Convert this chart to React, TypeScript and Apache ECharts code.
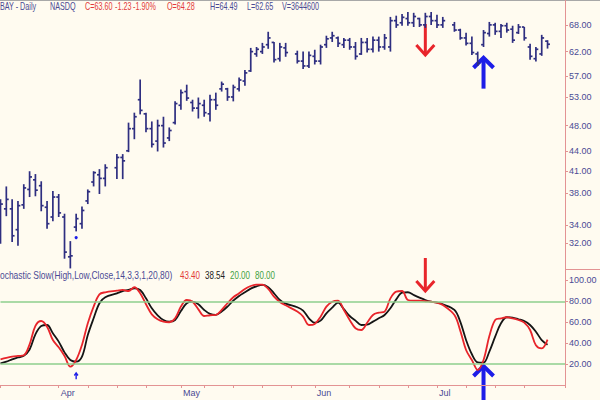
import React, { useEffect, useRef } from "react";
import * as echarts from "echarts";

// ---------- data ----------
const START_DATE = "2001-03-19"; // first weekday slot shown
const SLOT_COUNT = 98; // weekday slots on the axis (incl. holidays + blank tail)
const MONTHS = ["Jan", "Feb", "Mar", "Apr", "May", "Jun", "Jul", "Aug", "Sep", "Oct", "Nov", "Dec"];

// Daily OHLC, one entry per weekday slot (null = market holiday)
const OPEN: (number | null)[] = [
  32.5, 36.0, 36.0, 33.5, 36.5, 38.5, 39.8, 39.0, 36.2, 35.0,
  37.5, 35.0, 30.5, 33.8, 34.2, 37.0, 39.5, 40.5, 40.0, null,
  41.5, 43.0, 44.0, 47.5, 52.5, 50.0, 47.5, 45.5, 48.0, 46.0,
  48.5, 51.5, 54.0, 52.0, 51.0, 51.5, 50.0, 52.5, 54.5, 54.5,
  53.0, 54.5, 56.0, 58.0, 61.5, 62.0, 63.5, 64.0, 60.5, 62.8,
  null, 61.5, 60.0, 59.0, 61.0, 60.0, 63.5, 65.0, 65.0, 63.5,
  64.5, 63.0, 61.5, 64.0, 62.5, 64.5, 63.0, 63.0, 69.0, 68.5,
  69.5, 68.5, 69.5, 68.0, 70.0, 69.0, 68.0, null, 68.0, 66.8,
  65.0, 63.8, 61.5, 63.5, 66.0, 68.0, 66.5, 67.8, 67.0, 66.2,
  67.5, 63.0, 60.5, 61.5, 64.28,
];
const HIGH: (number | null)[] = [
  37.2, 38.9, 37.2, 37.0, 39.2, 41.0, 40.6, 39.6, 37.0, 38.3,
  37.9, 35.4, 32.2, 35.4, 36.3, 38.5, 41.0, 41.3, 42.0, null,
  43.5, 43.5, 48.5, 50.2, 56.3, 50.2, 48.7, 49.0, 49.5, 47.7,
  52.2, 54.4, 55.3, 52.5, 52.9, 52.5, 53.4, 53.8, 55.9, 54.7,
  55.3, 56.7, 58.2, 62.8, 63.0, 63.9, 66.4, 64.1, 63.9, 63.9,
  null, 62.2, 62.0, 62.0, 62.4, 63.5, 65.5, 66.4, 65.3, 65.0,
  65.0, 64.1, 65.0, 65.0, 65.3, 65.3, 65.9, 69.9, 70.2, 70.6,
  71.1, 70.9, 69.7, 70.9, 71.1, 70.4, 69.9, null, 68.7, 67.1,
  66.2, 65.3, 62.0, 66.8, 68.7, 68.5, 68.2, 68.5, 67.8, 68.2,
  67.5, 63.7, 63.0, 65.7, 64.49,
];
const LOW: (number | null)[] = [
  31.9, 35.1, 32.1, 31.7, 36.0, 37.5, 37.6, 35.7, 33.6, 34.5,
  35.0, 30.3, 29.3, 33.3, 33.6, 36.6, 38.9, 37.9, 38.9, null,
  39.9, 39.9, 43.8, 45.8, 49.9, 46.9, 44.5, 43.9, 44.5, 45.5,
  48.2, 50.7, 52.3, 50.4, 49.2, 49.5, 48.7, 50.7, 54.0, 52.3,
  52.2, 54.0, 55.1, 57.8, 60.9, 61.5, 62.6, 59.7, 59.9, 60.9,
  null, 59.5, 58.4, 58.6, 59.3, 59.3, 62.8, 64.1, 63.0, 62.8,
  62.4, 60.3, 61.3, 61.8, 61.8, 62.0, 62.4, 62.0, 67.3, 67.8,
  67.8, 67.5, 67.5, 67.3, 68.0, 67.3, 67.3, null, 66.4, 64.6,
  63.3, 61.3, 59.0, 63.0, 65.3, 65.7, 65.0, 66.2, 63.9, 65.9,
  64.4, 60.3, 59.9, 61.1, 62.65,
];
const CLOSE: (number | null)[] = [
  36.6, 37.2, 32.8, 36.4, 38.7, 40.2, 38.4, 36.4, 34.2, 37.5,
  35.5, 31.0, 30.6, 34.8, 35.8, 38.2, 40.8, 40.0, 41.5, null,
  43.0, 42.5, 47.5, 49.5, 50.6, 47.5, 45.0, 48.0, 45.2, 47.2,
  51.8, 53.8, 52.8, 51.0, 51.8, 50.2, 52.5, 51.5, 55.4, 53.0,
  54.8, 56.2, 57.6, 62.0, 62.5, 63.0, 65.0, 60.3, 63.0, 61.8,
  null, 60.0, 59.0, 61.2, 60.0, 63.0, 64.8, 65.5, 63.8, 64.5,
  63.0, 61.0, 64.0, 62.5, 64.5, 63.0, 65.0, 69.0, 68.0, 69.8,
  68.5, 70.0, 68.0, 70.0, 69.0, 68.0, 69.0, null, 66.8, 65.0,
  63.8, 61.8, 59.6, 66.2, 68.0, 66.5, 67.8, 66.8, 64.5, 67.5,
  65.0, 61.0, 62.5, 65.0, 63.60,
];

// Stochastic Slow(14,3,3): %K (red) and %D (black)
const STOCH_K: (number | null)[] = [
  24.6, 26.0, 27.1, 27.8, 28.4, 38.9, 56.5, 61.2, 55.8, 43.0,
  36.1, 27.8, 17.5, 23.9, 38.3, 59.0, 75.0, 86.7, 88.7, null,
  90.2, 90.9, 89.9, 93.5, 87.7, 77.2, 67.6, 62.9, 60.6, 60.0,
  63.8, 75.0, 81.3, 79.7, 72.4, 66.0, 66.7, 67.0, 71.8, 78.2,
  83.9, 87.7, 91.9, 94.7, 96.0, 96.0, 91.9, 84.5, 79.4, 76.2,
  null, 70.2, 65.4, 57.4, 58.4, 65.4, 75.0, 79.7, 80.7, 71.8,
  62.2, 54.3, 52.6, 59.6, 67.0, 69.2, 70.2, 82.9, 89.3, 89.9,
  81.3, 80.7, 80.7, 80.1, 79.7, 78.8, 76.6, null, 67.0, 52.0,
  33.5, 23.9, 14.4, 23.9, 46.8, 62.2, 63.8, 64.8, 63.8, 62.2,
  59.6, 52.6, 38.0, 35.0, 43.40,
];
const STOCH_D: (number | null)[] = [
  20.7, 22.3, 24.6, 26.3, 28.0, 34.0, 48.5, 56.5, 57.4, 49.5,
  41.5, 31.2, 23.9, 22.3, 27.1, 47.8, 63.8, 78.2, 83.9, null,
  87.7, 89.9, 90.9, 92.5, 90.9, 82.9, 73.4, 66.7, 62.2, 60.6,
  62.2, 70.8, 78.2, 79.7, 77.2, 71.8, 68.0, 67.0, 70.2, 75.0,
  80.7, 85.2, 88.7, 92.2, 94.4, 95.7, 93.5, 87.7, 81.3, 77.9,
  null, 74.4, 71.2, 63.8, 59.6, 61.6, 68.6, 74.0, 78.8, 72.5,
  66.0, 61.6, 57.4, 57.7, 60.6, 63.8, 67.0, 73.4, 81.9, 88.3,
  88.7, 86.1, 83.6, 81.3, 79.7, 78.8, 77.2, null, 71.8, 60.6,
  43.1, 29.4, 21.6, 21.3, 32.0, 46.2, 59.0, 64.8, 64.5, 62.9,
  61.2, 57.4, 51.0, 43.0, 38.54,
];

const PRICE_TICKS = [32, 34, 38, 41, 44, 48, 53, 57, 62, 68];
const PRICE_AXIS_MIN = 29.14;
const PRICE_AXIS_MAX = 74.11;
const STOCH_TICKS = [20, 40, 60, 80, 100];
const STOCH_LEVELS = [20, 80];

const HEADER = [
  { text: "BAY - Daily", x: 0, kind: "navy" },
  { text: "NASDQ", x: 50, kind: "navy" },
  { text: "C=63.60", x: 85, kind: "red" },
  { text: "-1.23", x: 115, kind: "red" },
  { text: "-1.90%", x: 133, kind: "red" },
  { text: "O=64.28", x: 167, kind: "red" },
  { text: "H=64.49", x: 210, kind: "navy" },
  { text: "L=62.65", x: 247, kind: "navy" },
  { text: "V=3644600", x: 282, kind: "navy" },
];
const STOCH_LABEL = [
  { text: "ochastic Slow(High,Low,Close,14,3,3,1,20,80)", x: 0, kind: "navy", sx: 0.845 },
  { text: "43.40", x: 180, kind: "red", sx: 0.8 },
  { text: "38.54", x: 205, kind: "black", sx: 0.8 },
  { text: "20.00", x: 230, kind: "green", sx: 0.8 },
  { text: "80.00", x: 255, kind: "green", sx: 0.8 },
];

// annotation arrows: panel 0 = price, panel 1 = stochastic; arrow tip at "to"
const ARROWS = [
  { panel: 0, slot: 73, from: 68.2, to: 61.3, kind: "red" },
  { panel: 0, slot: 83, from: 54.55, to: 60.7, kind: "blue" },
  { panel: 1, slot: 73, from: 121.5, to: 90, kind: "red" },
  { panel: 1, slot: 83, from: -14.5, to: 18.2, kind: "blue" },
];

// ---------- styles ----------
const BG = "#fffbf0";
const PINK = "#e39393";
const NAVY = "#4a4a94";
const BAR = "#2e2e80";
const RED = "#e8252b";
const BLUE = "#1d1de8";
const GREEN = "#8ecf8e";
const FONT = "Arial, 'Liberation Sans', sans-serif";
const COLORS: Record<string, string> = { navy: NAVY, red: "#e23a3a", black: "#222222", green: "#3f9f3f", blue: BLUE };

function buildSlots(): string[] {
  const out: string[] = [];
  const d = new Date(START_DATE + "T00:00:00Z");
  while (out.length < SLOT_COUNT) {
    const wd = d.getUTCDay();
    if (wd !== 0 && wd !== 6) out.push(d.toISOString().slice(0, 10));
    d.setUTCDate(d.getUTCDate() + 1);
  }
  return out;
}

export default function App() {
  const ref = useRef<HTMLDivElement>(null);

  useEffect(() => {
    if (!ref.current) return;
    const chart = echarts.init(ref.current, undefined, { renderer: "svg" });
    const slots = buildSlots();
    const dataLen = CLOSE.length;

    const monthStarts = new Set<number>();
    slots.forEach((s, i) => {
      if (i > 0 && s.slice(5, 7) !== slots[i - 1].slice(5, 7)) monthStarts.add(i);
    });
    const tickSet = new Set<number>(monthStarts);
    slots.forEach((s, i) => {
      const wd = new Date(s + "T00:00:00Z").getUTCDay();
      if (wd !== 1) return;
      let near = false;
      monthStarts.forEach((m) => { if (Math.abs(m - i) <= 3 && m !== i) near = true; });
      if (!near) tickSet.add(i);
    });

    const ohlc: number[][] = [];
    for (let i = 0; i < dataLen; i++) {
      const o = OPEN[i], h = HIGH[i], l = LOW[i], c = CLOSE[i];
      if (o == null || h == null || l == null || c == null) continue;
      ohlc.push([i, Math.log(o), Math.log(h), Math.log(l), Math.log(c)]);
    }

    const textEl = (t: { text: string; x: number; kind: string; sx?: number }, y: number, sx: number) => ({
      type: "text",
      x: t.x,
      y,
      scaleX: t.sx ?? sx,
      silent: true,
      style: {
        text: t.text,
        fill: COLORS[t.kind],
        fontSize: 10,
        fontFamily: FONT,
        verticalAlign: "middle",
        textVerticalAlign: "middle",
      },
    });

    const option: any = {
      animation: false,
      backgroundColor: BG,
      textStyle: { fontFamily: FONT },
      grid: [
        { left: 0.5, width: 564.5, top: 0, height: 270, outerBoundsMode: "none" },
        { left: 0.5, width: 564.5, top: 270, height: 115, outerBoundsMode: "none" },
      ],
      xAxis: [
        { type: "category", gridIndex: 0, data: slots, boundaryGap: false, show: false },
        {
          type: "category",
          gridIndex: 1,
          data: slots,
          boundaryGap: false,
          axisLine: { show: true, lineStyle: { color: PINK, width: 1 } },
          axisTick: { show: true, length: 3, interval: (i: number) => tickSet.has(i), lineStyle: { color: PINK } },
          axisLabel: {
            show: true,
            interval: (i: number) => monthStarts.has(i) && i < dataLen,
            formatter: (v: string) => MONTHS[parseInt(v.slice(5, 7), 10) - 1],
            align: "left",
            margin: 3,
            padding: [0, 0, 0, 2],
            color: NAVY,
            fontSize: 9,
            fontFamily: FONT,
          },
          splitLine: { show: false },
        },
      ],
      yAxis: [
        {
          type: "value",
          gridIndex: 0,
          position: "right",
          min: Math.log(PRICE_AXIS_MIN),
          max: Math.log(PRICE_AXIS_MAX),
          axisLine: { show: true, lineStyle: { color: PINK, width: 1 } },
          axisTick: { show: true, length: 3, customValues: PRICE_TICKS.map((p) => Math.log(p)), lineStyle: { color: PINK } },
          axisLabel: {
            show: true,
            customValues: PRICE_TICKS.map((p) => Math.log(p)),
            formatter: (v: number) => Math.exp(v).toFixed(2),
            margin: 4,
            color: NAVY,
            fontSize: 9,
            fontFamily: FONT,
          },
          splitLine: { show: false },
        },
        {
          type: "value",
          gridIndex: 1,
          position: "right",
          min: 0,
          max: 110,
          axisLine: { show: true, lineStyle: { color: PINK, width: 1 } },
          axisTick: { show: true, length: 3, customValues: STOCH_TICKS, lineStyle: { color: PINK } },
          axisLabel: {
            show: true,
            customValues: STOCH_TICKS,
            formatter: (v: number) => v.toFixed(2),
            margin: 4,
            color: NAVY,
            fontSize: 9,
            fontFamily: FONT,
          },
          splitLine: { show: false },
        },
      ],
      series: [
        {
          type: "custom",
          name: "BAY",
          xAxisIndex: 0,
          yAxisIndex: 0,
          data: ohlc,
          encode: { x: 0, y: [1, 2, 3, 4] },
          renderItem: (_p: any, api: any) => {
            const i = api.value(0);
            const o = api.coord([i, api.value(1)]);
            const h = api.coord([i, api.value(2)]);
            const l = api.coord([i, api.value(3)]);
            const c = api.coord([i, api.value(4)]);
            const style = { stroke: BAR, lineWidth: 1.7 };
            return {
              type: "group",
              children: [
                { type: "line", shape: { x1: h[0], y1: h[1], x2: l[0], y2: l[1] }, style },
                { type: "line", shape: { x1: o[0] - 2.4, y1: o[1], x2: o[0], y2: o[1] }, style },
                { type: "line", shape: { x1: c[0], y1: c[1], x2: c[0] + 2.4, y2: c[1] }, style },
              ],
            };
          },
        },
        {
          type: "line",
          name: "%D",
          xAxisIndex: 1,
          yAxisIndex: 1,
          data: STOCH_D,
          connectNulls: true,
          showSymbol: false,
          smooth: 0.35,
          lineStyle: { color: "#151515", width: 1.8 },
          markLine: {
            silent: true,
            symbol: "none",
            label: { show: false },
            lineStyle: { color: GREEN, width: 1.6, type: "solid" },
            data: STOCH_LEVELS.map((v) => ({ yAxis: v })),
          },
          z: 2,
        },
        {
          type: "line",
          name: "%K",
          xAxisIndex: 1,
          yAxisIndex: 1,
          data: STOCH_K,
          connectNulls: true,
          showSymbol: false,
          smooth: 0.35,
          lineStyle: { color: RED, width: 1.8 },
          z: 3,
        },
      ],
    };
    chart.setOption(option);

    // annotation graphics positioned through the chart's own scales
    const toPx = (panel: number, slot: number, v: number) =>
      chart.convertToPixel({ xAxisIndex: panel, yAxisIndex: panel } as any, [slot, panel === 0 ? Math.log(v) : v]) as number[];

    const graphics: any[] = [
      { type: "rect", shape: { x: 0, y: 0, width: 600, height: 1 }, style: { fill: "#a8a8a8" }, silent: true },
      { type: "line", shape: { x1: 565, y1: 269.5, x2: 600, y2: 269.5 }, style: { stroke: PINK, lineWidth: 1 }, silent: true },
      ...HEADER.map((t) => textEl(t, 7, 0.72)),
      ...STOCH_LABEL.map((t) => textEl(t, 275.5, 0.82)),
    ];

    ARROWS.forEach((a) => {
      const p0 = toPx(a.panel, a.slot, a.from);
      const p1 = toPx(a.panel, a.slot, a.to);
      const dir = Math.sign(p1[1] - p0[1]);
      const color = a.kind === "red" ? RED : BLUE;
      const w = a.kind === "red" ? 3 : 4;
      const hw = a.kind === "red" ? 9 : 10;
      graphics.push({
        type: "line",
        silent: true,
        shape: { x1: p0[0], y1: p0[1], x2: p1[0], y2: p1[1] - dir * 1.5 },
        style: { stroke: color, lineWidth: w },
      });
      graphics.push({
        type: "polyline",
        silent: true,
        shape: { points: [[p1[0] - hw, p1[1] - dir * 10], [p1[0], p1[1]], [p1[0] + hw, p1[1] - dir * 10]] },
        style: { stroke: color, lineWidth: w, fill: "none", lineJoin: "miter" },
      });
    });

    // small blue markers at the April low
    const dot = toPx(0, 13, 32.6);
    graphics.push({ type: "circle", silent: true, shape: { cx: dot[0], cy: dot[1], r: 1.6 }, style: { fill: BLUE } });
    const s0 = toPx(1, 13, 5.5);
    const s1 = toPx(1, 13, 11.5);
    graphics.push({ type: "line", silent: true, shape: { x1: s0[0], y1: s0[1], x2: s1[0], y2: s1[1] }, style: { stroke: BLUE, lineWidth: 1.4 } });
    graphics.push({
      type: "polyline",
      silent: true,
      shape: { points: [[s1[0] - 1.8, s1[1] + 2.5], [s1[0], s1[1]], [s1[0] + 1.8, s1[1] + 2.5]] },
      style: { stroke: BLUE, lineWidth: 1.4, fill: "none" },
    });

    chart.setOption({ graphic: graphics });

    return () => {
      chart.dispose();
    };
  }, []);

  return <div ref={ref} style={{ position: "fixed", left: 0, top: 0, width: 600, height: 400 }} />;
}
